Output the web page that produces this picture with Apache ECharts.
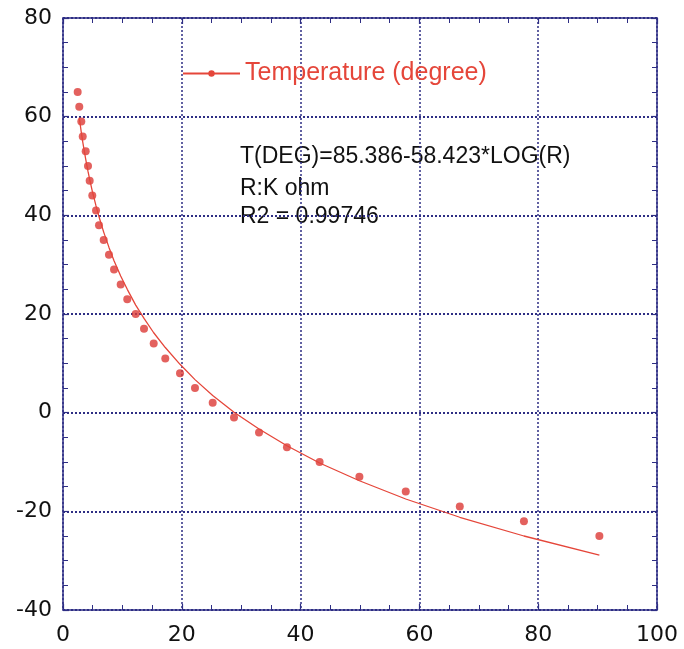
<!DOCTYPE html>
<html>
<head>
    <meta charset="utf-8">
    <title>Temperature vs resistance</title>
    <script src="https://cdn.jsdelivr.net/npm/echarts@6/dist/echarts.min.js"></script>
    <style>
        html, body { margin: 0; padding: 0; background: #fff; }
        #chart { width: 684px; height: 649px; }
    </style>
</head>
<body>
    <div id="chart"></div>
    <script>
        // measured points: resistance (K ohm) / temperature (degree)
        var resistK = [2.47, 2.74, 3.08, 3.32, 3.82, 4.21, 4.49, 4.93, 5.56, 6.06, 6.85, 7.74, 8.59, 9.71, 10.82,
            12.24, 13.64, 15.27, 17.22, 19.7, 22.22, 25.2, 28.79, 33.0, 37.7, 43.2, 49.9, 57.7, 66.8, 77.6, 90.3];
        var tempDeg = [65, 62, 59, 56, 53, 50, 47, 44, 41, 38, 35, 32, 29, 26, 23,
            20, 17, 14, 11, 8, 5, 2, -1, -4, -7, -10, -13, -16, -19, -22, -25];

        // fitted curve
        var fitR = [2.74, 3.08, 3.32, 3.82, 4.21, 4.49, 4.93, 5.56, 6.06, 6.85, 7.74, 8.59, 9.71, 10.82,
            12.24, 13.64, 15.27, 17.22, 19.7, 22.22, 25.2, 28.79, 33.0, 37.7, 43.2, 49.9, 57.7, 66.8, 77.6, 90.3];
        var fitDeg = [59.8, 56.8, 54.9, 51.4, 48.9, 47.3, 44.9, 41.9, 39.7, 36.6, 33.5, 30.8, 27.7, 25.0,
            21.8, 19.1, 16.2, 13.2, 9.8, 6.7, 3.5, 0.1, -3.3, -6.7, -10.2, -13.8, -17.5, -21.2, -25.0, -28.9];

        var notes = ['T(DEG)=85.386-58.423*LOG(R)', 'R:K ohm', 'R2 = 0.99746'];

        var navy = '#2e2e84';
        var red = '#e5463a';

        var pts = [], fit = [];
        for (var i = 0; i < resistK.length; i++) pts.push([resistK[i], tempDeg[i]]);
        for (var j = 0; j < fitR.length; j++) fit.push([fitR[j], fitDeg[j]]);

        function axisBase(extra) {
            var a = {
                type: 'value',
                axisLine: { show: true, onZero: false, lineStyle: { color: navy, width: 1.5 } },
                axisTick: { show: true, inside: true, length: 6, lineStyle: { color: navy, width: 1.2 } },
                minorTick: { show: true, splitNumber: 4, length: 5, lineStyle: { color: navy, width: 1 } },
                axisLabel: { show: true, color: '#111', fontSize: 22, fontFamily: 'DejaVu Sans' },
                splitLine: { show: false }
            };
            for (var k in extra) a[k] = extra[k];
            return a;
        }

        var noteStyle = function (t) {
            return { text: t, fill: '#111', fontSize: 23, fontFamily: 'Liberation Sans', verticalAlign: 'middle' };
        };

        var chart = echarts.init(document.getElementById('chart'));
        chart.setOption({
            animation: false,
            grid: { left: 63, right: 27, top: 18, bottom: 39 },
            legend: {
                left: 177, top: 56,
                itemWidth: 57, itemHeight: 8,
                data: ['Temperature (degree)'],
                textStyle: { color: red, fontSize: 25, fontFamily: 'Liberation Sans' }
            },
            xAxis: [
                axisBase({
                    position: 'bottom', min: 0, max: 100, interval: 20,
                    axisLabel: { color: '#111', fontSize: 22, fontFamily: 'DejaVu Sans', margin: 14 },
                    splitLine: { show: true, lineStyle: { color: navy, width: 1.5, type: [2, 2] } }
                }),
                axisBase({
                    position: 'top', min: 0, max: 100, interval: 20,
                    axisLabel: { show: false }
                })
            ],
            yAxis: [
                axisBase({
                    position: 'left', min: -40, max: 80, interval: 20,
                    axisLabel: { color: '#111', fontSize: 22, fontFamily: 'DejaVu Sans', margin: 11 },
                    splitLine: { show: true, lineStyle: { color: navy, width: 2, type: [2, 2] } }
                }),
                axisBase({
                    position: 'right', min: -40, max: 80, interval: 20,
                    axisLabel: { show: false }
                })
            ],
            graphic: [
                { type: 'text', x: 240, y: 157, style: noteStyle(notes[0]) },
                { type: 'text', x: 240, y: 189, style: noteStyle(notes[1]) },
                { type: 'text', x: 240, y: 217, style: noteStyle(notes[2]) }
            ],
            series: [
                {
                    name: 'Temperature (degree)',
                    type: 'line',
                    data: fit,
                    symbol: 'circle',
                    showSymbol: false,
                    itemStyle: { color: red },
                    lineStyle: { color: red, width: 1.3 }
                },
                {
                    name: 'points',
                    type: 'scatter',
                    data: pts,
                    symbol: 'circle',
                    symbolSize: 8,
                    itemStyle: { color: '#dc3a36' }
                }
            ]
        });
    </script>
</body>
</html>
